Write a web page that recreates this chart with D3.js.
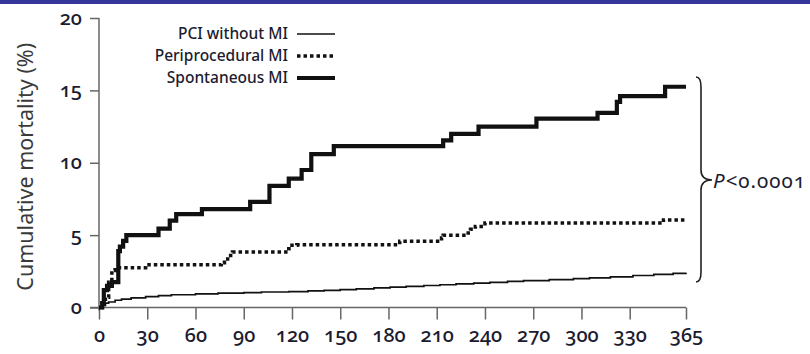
<!DOCTYPE html>
<html>
<head>
<meta charset="utf-8">
<script src="https://cdn.jsdelivr.net/npm/d3@7"></script>
<style>
  html, body { margin: 0; padding: 0; background: #fff; }
  svg { display: block; }
  text { font-family: "Noto Sans", "Open Sans", sans-serif; font-variant-numeric: oldstyle-nums; }
</style>
</head>
<body>
<svg id="chart" width="810" height="354"></svg>
<script>
// Follow-up days and y-axis ticks
const xTicks = [0, 30, 60, 90, 120, 150, 180, 210, 240, 270, 300, 330, 365];
const yTicks = [0, 5, 10, 15, 20];

// Cumulative mortality (%) by day, one step per event
const pciWithoutMI = [
  [0, 0], [2, 0.15], [4, 0.3], [6, 0.38], [10, 0.5], [14, 0.58], [20, 0.66], [29, 0.75],
  [37, 0.82], [45, 0.88], [60, 0.94], [74, 0.99], [90, 1.03], [101, 1.07], [118, 1.1],
  [130, 1.15], [140, 1.19], [150, 1.24], [160, 1.29], [171, 1.35], [181, 1.41], [191, 1.46],
  [202, 1.52], [212, 1.57], [222, 1.63], [233, 1.68], [243, 1.73], [254, 1.8], [264, 1.86],
  [280, 1.93], [295, 1.99], [305, 2.05], [318, 2.12], [332, 2.21], [345, 2.29], [357, 2.36],
  [365, 2.4]
];
const periproceduralMI = [
  [0, 0], [2, 0.3], [4, 0.7], [6, 1.75], [8, 2.55], [10, 2.75], [29, 2.95], [76, 3.1],
  [78, 3.35], [80, 3.6], [83, 3.83], [118, 4.06], [120, 4.3], [123, 4.34], [187, 4.57],
  [213, 4.8], [214, 5.0], [228, 5.15], [231, 5.4], [234, 5.6], [240, 5.83], [351, 6.05],
  [365, 6.05]
];
const spontaneousMI = [
  [0, 0], [2, 0.3], [3, 1.2], [5, 1.5], [8, 1.75], [12, 3.9], [13, 4.2], [15, 4.6], [17, 5.0],
  [37, 5.45], [44, 6.0], [48, 6.45], [64, 6.8], [94, 7.3], [106, 8.4], [118, 8.9], [126, 9.5],
  [132, 10.6], [146, 11.15], [214, 11.55], [219, 12.0], [236, 12.5], [272, 13.05], [310, 13.45],
  [322, 14.2], [324, 14.6], [352, 15.25], [365, 15.25]
];

const seriesNames = ["PCI without MI", "Periprocedural MI", "Spontaneous MI"];
const pValueLabel = "0.0001";

const svg = d3.select("#chart");

// Header band
svg.append("rect").attr("x", 0).attr("y", 0).attr("width", 810).attr("height", 4).attr("fill", "#35359a");

const x = d3.scaleLinear().domain([0, 365]).range([99, 686]);
const y = d3.scaleLinear().domain([0, 20]).range([307.5, 18]);

const axisColor = "#666";
const labelColor = "#1c1c30";

// Y axis
const gy = svg.append("g").attr("transform", "translate(99,0)")
  .call(d3.axisLeft(y).tickValues(yTicks).tickSize(9).tickPadding(8));
gy.select(".domain").attr("stroke", axisColor).attr("stroke-width", 1.5)
  .attr("d", `M0,${y(20)}V${y(0) + 3}`);
gy.selectAll(".tick line").attr("stroke", axisColor).attr("stroke-width", 1.5);
gy.selectAll(".tick text").attr("font-size", 20).attr("font-weight", 500)
  .attr("fill", labelColor).attr("dy", "0.3em");

// X axis
const gx = svg.append("g").attr("transform", `translate(0,${y(0)})`)
  .call(d3.axisBottom(x).tickValues(xTicks).tickSize(12).tickPadding(8));
gx.select(".domain").attr("stroke", axisColor).attr("stroke-width", 1.5)
  .attr("d", `M90,0H${x(365)}`);
gx.selectAll(".tick line").attr("stroke", axisColor).attr("stroke-width", 1.5);
gx.selectAll(".tick text").attr("font-size", 20).attr("font-weight", 500).attr("fill", labelColor);

// Y axis title
svg.append("text")
  .attr("transform", `translate(33,${(y(0) + y(20)) / 2 + 4}) rotate(-90)`)
  .attr("text-anchor", "middle")
  .attr("font-size", 21.5)
  .attr("fill", "#3a3a3a")
  .text("Cumulative mortality (%)");

// Survival-style step curves
const line = d3.line().x(d => x(d[0])).y(d => y(d[1])).curve(d3.curveStepAfter);

const styles = [
  { data: pciWithoutMI, width: 1.7, dash: null },
  { data: periproceduralMI, width: 3.5, dash: "3.5,3" },
  { data: spontaneousMI, width: 4.2, dash: null }
];

styles.forEach(s => {
  svg.append("path")
    .attr("d", line(s.data))
    .attr("fill", "none")
    .attr("stroke", "#111")
    .attr("stroke-width", s.width)
    .attr("stroke-dasharray", s.dash)
    .attr("stroke-linejoin", "miter");
});

// Legend
const legend = svg.append("g");
const legendRows = [34, 56, 78];
seriesNames.forEach((name, i) => {
  const ly = legendRows[i];
  legend.append("text")
    .attr("x", 288).attr("y", ly).attr("dy", "0.35em")
    .attr("text-anchor", "end")
    .attr("font-size", 15.5)
    .attr("font-weight", 500)
    .attr("fill", labelColor)
    .text(name);
  legend.append("line")
    .attr("x1", 297).attr("x2", 335).attr("y1", ly).attr("y2", ly)
    .attr("stroke", "#111")
    .attr("stroke-width", styles[i].width)
    .attr("stroke-dasharray", styles[i].dash);
});

// Brace grouping the three curves at 1 year
const bTop = 77, bBot = 282, bMid = 180, bx = 701;
const brace = `M${bx - 5},${bTop} Q${bx},${bTop} ${bx},${bTop + 10} L${bx},${bMid - 10} Q${bx},${bMid} ${bx + 11},${bMid}`
  + ` Q${bx},${bMid} ${bx},${bMid + 10} L${bx},${bBot - 10} Q${bx},${bBot} ${bx - 5},${bBot}`;
svg.append("path").attr("d", brace).attr("fill", "none").attr("stroke", "#222").attr("stroke-width", 1.6);

// p value
const pText = svg.append("text")
  .attr("x", 713).attr("y", 188)
  .attr("font-size", 20.5)
  .attr("letter-spacing", 1)
  .attr("fill", labelColor);
pText.append("tspan").attr("font-style", "italic").text("P");
pText.append("tspan").text("<" + pValueLabel);
</script>
</body>
</html>
